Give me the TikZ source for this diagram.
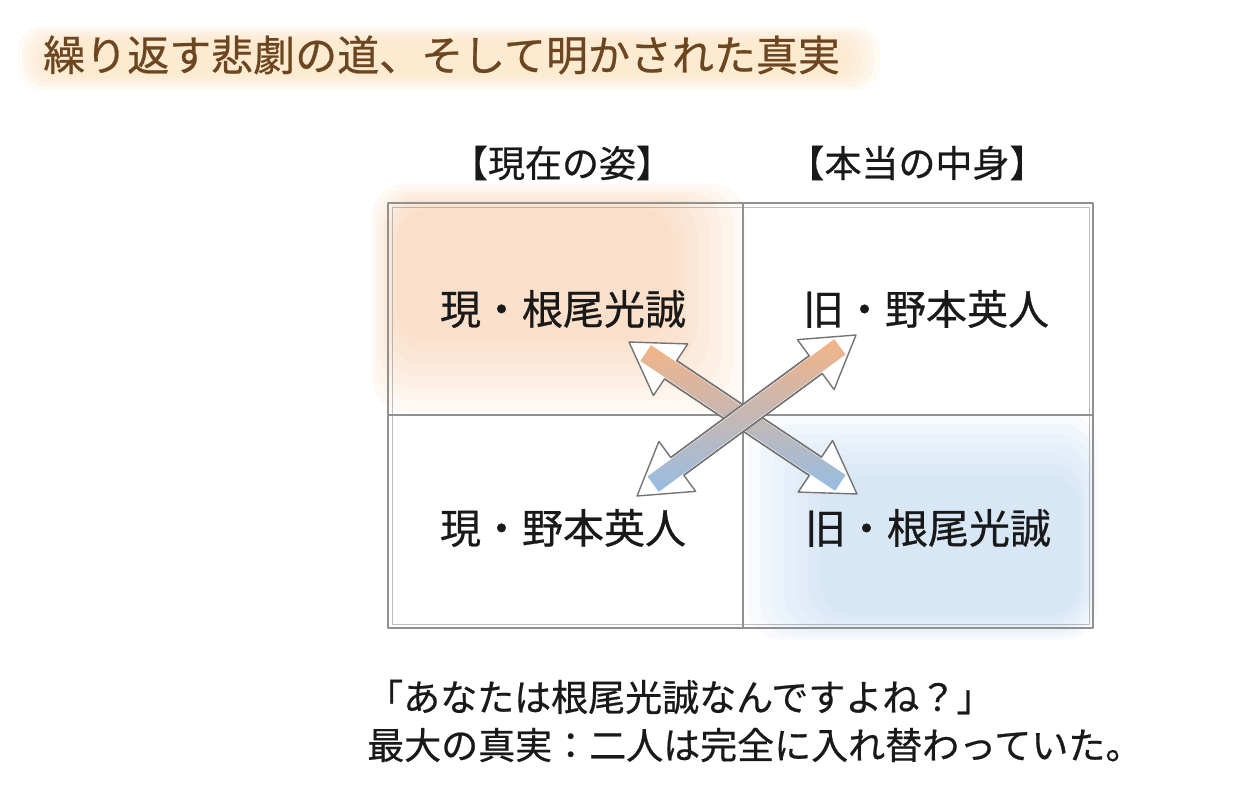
\documentclass[tikz,border=0pt]{standalone}
\usepackage{fontspec}
\setmainfont{Noto Sans CJK JP}[FakeBold=0.6]
\usetikzlibrary{calc}
\definecolor{titlebrown}{RGB}{108,70,32}
\definecolor{titleband}{RGB}{250,222,184}
\definecolor{washorange}{RGB}{246,196,154}
\definecolor{washblue}{RGB}{182,210,238}
\definecolor{gridgray}{RGB}{145,145,145}
\definecolor{arroworange}{RGB}{242,172,122}
\definecolor{arrowblue}{RGB}{140,182,224}
\definecolor{inkblack}{RGB}{25,25,25}

\tikzset{
  gridline/.style={draw=gridgray,line width=1.3pt},
  celltext/.style={inner sep=0pt,text=inkblack,font=\fontsize{41}{41}\selectfont},
  headtext/.style={inner sep=0pt,text=inkblack,font=\fontsize{37}{37}\selectfont},
  notetext/.style={inner sep=0pt,anchor=west,text=inkblack,font=\fontsize{37}{37}\selectfont},
  arrowbody/.style={fill=white,draw=gridgray!80!black,line width=1.4pt},
  arrowshaft/.style={top color=arroworange,bottom color=arrowblue,opacity=0.9}
}

% double headed block arrow between two tips
\newcommand{\swaparrow}[2]{%
  \filldraw[arrowbody] (#1)
    -- ($(#1)!50pt!(#2)!31pt!90:(#2)$) -- ($(#1)!50pt!(#2)!11pt!90:(#2)$)
    -- ($(#2)!50pt!(#1)!11pt!-90:(#1)$) -- ($(#2)!50pt!(#1)!31pt!-90:(#1)$)
    -- (#2)
    -- ($(#2)!50pt!(#1)!31pt!90:(#1)$) -- ($(#2)!50pt!(#1)!11pt!90:(#1)$)
    -- ($(#1)!50pt!(#2)!11pt!-90:(#2)$) -- ($(#1)!50pt!(#2)!31pt!-90:(#2)$)
    -- cycle;
  \shade[arrowshaft] ($(#1)!20pt!(#2)!9.5pt!90:(#2)$) -- ($(#2)!20pt!(#1)!9.5pt!-90:(#1)$)
    -- ($(#2)!20pt!(#1)!9.5pt!90:(#1)$) -- ($(#1)!20pt!(#2)!9.5pt!-90:(#2)$) -- cycle;
  \draw[gridline,draw=gridgray!80!black,line width=1.4pt]
    ($(#1)!50pt!(#2)!11pt!90:(#2)$) -- ($(#2)!50pt!(#1)!11pt!-90:(#1)$)
    ($(#2)!50pt!(#1)!11pt!90:(#1)$) -- ($(#1)!50pt!(#2)!11pt!-90:(#2)$);}

\begin{document}
\begin{tikzpicture}[x=1pt,y=-1pt,line cap=round,line join=round]
    \path[use as bounding box] (0,0) rectangle (1256,800);

    % title band
    \foreach \i in {0,...,5}
      \fill[titleband,opacity=0.16,rounded corners=24pt] (18+\i*5,26+\i*3) rectangle (880-\i*6,90-\i*3);
    \node[anchor=west,inner sep=0pt,text=titlebrown,font=\fontsize{42}{42}\selectfont] (title) at (43,55) {繰り返す悲劇の道、そして明かされた真実};

    % washes
    \foreach \i in {0,...,6}
      \fill[washorange,opacity=0.1,rounded corners=34pt] (372+\i*4,184+\i*4) rectangle (745-\i*12,412-\i*12);
    \foreach \i in {0,...,6}
      \fill[washblue,opacity=0.1,rounded corners=34pt] (748+\i*12,414+\i*10) rectangle (1098-\i*3,640-\i*4);

    % grid
    \coordinate (gNW) at (388,203);
    \coordinate (gSE) at (1093,628);
    \coordinate (gN) at (743,203);
    \coordinate (gS) at (743,628);
    \coordinate (gW) at (388,415);
    \coordinate (gE) at (1093,415);
    \draw[gridline] (gNW) rectangle (gSE);
    \draw[gridline,line width=0.8pt,opacity=0.6] ($(gNW)+(4,4)$) rectangle ($(gSE)+(-4,-4)$);
    \draw[gridline] (gN) -- (gS);
    \draw[gridline] (gW) -- (gE);

    % headers
    \node[headtext] (hNow) at (562,163) {【現在の姿】};
    \node[headtext] (hTrue) at (917,163) {【本当の中身】};

    % cells
    \node[celltext] (cNW) at (563,309) {現・根尾光誠};
    \node[celltext] (cNE) at (926,309) {旧・野本英人};
    \node[celltext] (cSW) at (563,528) {現・野本英人};
    \node[celltext] (cSE) at (928,528) {旧・根尾光誠};

    % swap arrows
    \coordinate (aNW) at (629,342);
    \coordinate (aSE) at (857,494);
    \coordinate (aSW) at (637,496);
    \coordinate (aNE) at (856,335);
    \swaparrow{aNW}{aSE}
    \swaparrow{aSW}{aNE}

    % bottom lines
    \node[notetext] (quote) at (366,697) {「あなたは根尾光誠なんですよね？」};
    \node[notetext] (truth) at (367,745) {最大の真実：二人は完全に入れ替わっていた。};
\end{tikzpicture}
\end{document}
